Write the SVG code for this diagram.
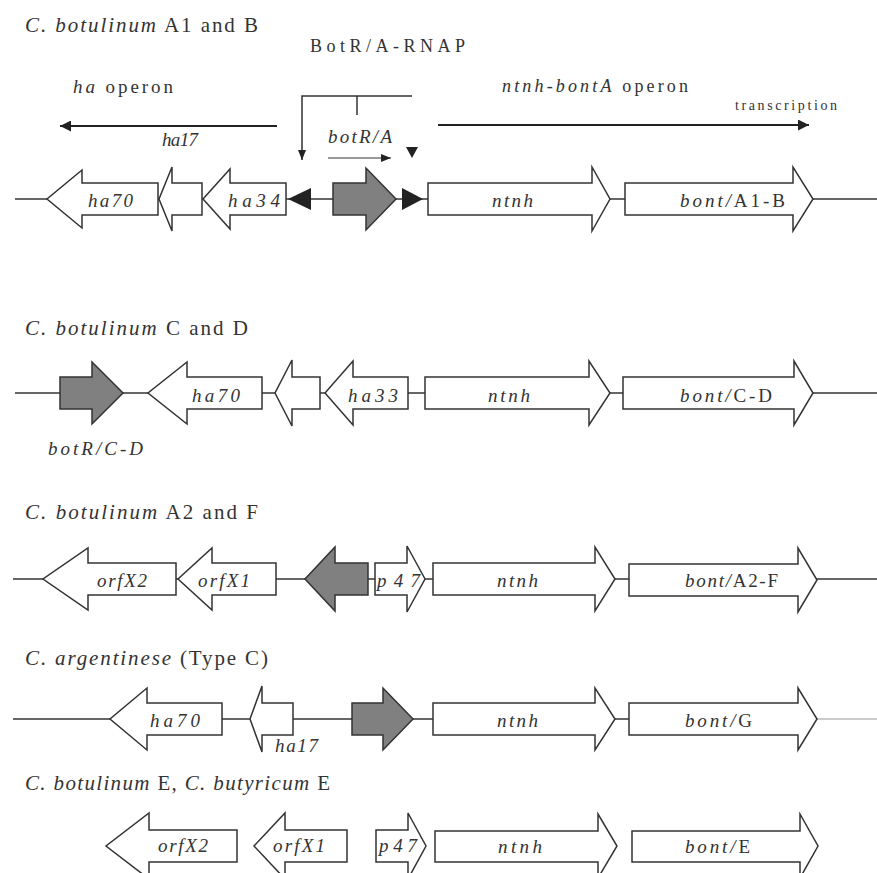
<svg xmlns="http://www.w3.org/2000/svg" width="877" height="873" viewBox="0 0 877 873">
<defs>
<marker id="ah" viewBox="0 0 10 10" refX="10" refY="5" markerWidth="10" markerHeight="10" markerUnits="userSpaceOnUse" orient="auto">
<path d="M0,1 L10,5 L0,9 Z" fill="#222"/>
</marker>
<marker id="ahs" viewBox="0 0 10 10" refX="10" refY="5" markerWidth="11" markerHeight="11" markerUnits="userSpaceOnUse" orient="auto">
<path d="M0,0 L10,5 L0,10 Z" fill="#222"/>
</marker>
</defs>
<style>
text{font-family:"Liberation Serif","Times New Roman",serif;fill:#333}
.t{font-size:21px}
.g{font-size:19px;font-style:italic}
.i{font-style:italic}
.n{font-style:normal}
.gene{fill:#fff;stroke:#333;stroke-width:1.5;stroke-linejoin:miter}
.reg{fill:#808080;stroke:#333;stroke-width:1.5}
.tri{fill:#222}
.base{stroke:#333;stroke-width:1.5;fill:none}
.op{stroke:#222;stroke-width:2;fill:none}
</style>
<rect width="877" height="873" fill="#fff"/>

<g id="connectors">
<line class="base" x1="15" y1="199" x2="877" y2="199"/>
<line class="base" x1="15" y1="393" x2="877" y2="393"/>
<line class="base" x1="13" y1="579" x2="877" y2="579"/>
<line class="base" x1="13" y1="719" x2="817" y2="719"/>
<line x1="817" y1="719" x2="877" y2="719" stroke="#999" stroke-width="1.2"/>
<line class="op" x1="277" y1="126" x2="60" y2="126" marker-end="url(#ahs)"/>
<line class="op" x1="438" y1="125" x2="809" y2="125" marker-end="url(#ahs)"/>
<polyline class="base" points="302,149 302,96 412,96"/>
<line class="base" x1="302" y1="149" x2="302" y2="160" marker-end="url(#ah)"/>
<line class="base" x1="357" y1="96" x2="357" y2="115"/>
<line x1="328" y1="158" x2="391" y2="158" stroke="#333" stroke-width="1.2" marker-end="url(#ah)"/>
</g>

<g id="titles">
<text class="t" x="25" y="32" textLength="233" lengthAdjust="spacing"><tspan class="i">C. botulinum</tspan> A1 and B</text>
<text class="t" x="25" y="335" textLength="223" lengthAdjust="spacing"><tspan class="i">C. botulinum</tspan> C and D</text>
<text class="t" x="25" y="519" textLength="233" lengthAdjust="spacing"><tspan class="i">C. botulinum</tspan> A2 and F</text>
<text class="t" x="25" y="665" textLength="243" lengthAdjust="spacing"><tspan class="i">C. argentinese</tspan> (Type C)</text>
<text class="t" x="25" y="790" textLength="305" lengthAdjust="spacing"><tspan class="i">C. botulinum</tspan> E, <tspan class="i">C. butyricum</tspan> E</text>
</g>

<g id="labels-top">
<text x="310" y="52" font-size="18" textLength="155" lengthAdjust="spacing">BotR/A-RNAP</text>
<text x="73" y="93" font-size="19" textLength="100" lengthAdjust="spacing"><tspan class="i">ha</tspan> operon</text>
<text x="502" y="92" font-size="18" textLength="186" lengthAdjust="spacing"><tspan class="i">ntnh-bontA</tspan> operon</text>
<text x="735" y="110" font-size="14" textLength="102" lengthAdjust="spacing">transcription</text>
</g>

<!-- Row 1 -->
<g id="r1-ha70"><polygon class="gene" points="158,183 82,183 82,170 47,199 82,228 82,215 158,215"/><text class="g" x="88" y="207" textLength="45" lengthAdjust="spacing">ha70</text></g>
<g id="r1-ha17"><polygon class="gene" points="202,183 172,183 172,167 159,199 172,231 172,215 202,215"/><text class="g" x="162" y="146" textLength="36" lengthAdjust="spacing">ha17</text></g>
<g id="r1-ha34"><polygon class="gene" points="286,183 230,183 230,169 203,199 230,229 230,215 286,215"/><text class="g" x="228" y="207" textLength="52" lengthAdjust="spacing">ha34</text></g>
<g id="r1-site-left"><polygon class="tri" points="288,199 311,188 311,210"/></g>
<g id="r1-botR"><polygon class="reg" points="333,183 366,183 366,168 396,199 366,230 366,215 333,215"/><text class="g" x="328" y="143" textLength="64" lengthAdjust="spacing">botR/A</text></g>
<g id="r1-site-right"><polygon class="tri" points="402,188 423,199 402,210"/><polygon class="tri" points="406,147 418,147 412,158"/></g>
<g id="r1-ntnh"><polygon class="gene" points="428,183 592,183 592,167 610,199 592,231 592,215 428,215"/><text class="g" x="492" y="207" textLength="41" lengthAdjust="spacing">ntnh</text></g>
<g id="r1-bont"><polygon class="gene" points="625,183 793,183 793,167 813,199 793,231 793,215 625,215"/><text class="g" x="680" y="207" textLength="105" lengthAdjust="spacing">bont/<tspan class="n">A1-B</tspan></text></g>

<!-- Row 2 -->
<g id="r2-botR"><polygon class="reg" points="60,377 92,377 92,362 123,393 92,424 92,409 60,409"/><text class="g" x="48" y="455" textLength="95" lengthAdjust="spacing">botR/C-D</text></g>
<g id="r2-ha70"><polygon class="gene" points="262,377 187,377 187,362 148,393 187,424 187,409 262,409"/><text class="g" x="192" y="402" textLength="48" lengthAdjust="spacing">ha70</text></g>
<g id="r2-ha17"><polygon class="gene" points="320,377 292,377 292,360 275,393 292,426 292,409 320,409"/></g>
<g id="r2-ha33"><polygon class="gene" points="408,377 353,377 353,361 325,393 353,425 353,409 408,409"/><text class="g" x="348" y="402" textLength="50" lengthAdjust="spacing">ha33</text></g>
<g id="r2-ntnh"><polygon class="gene" points="425,377 589,377 589,361 610,393 589,425 589,409 425,409"/><text class="g" x="488" y="402" textLength="42" lengthAdjust="spacing">ntnh</text></g>
<g id="r2-bont"><polygon class="gene" points="623,377 794,377 794,361 813,393 794,425 794,409 623,409"/><text class="g" x="680" y="402" textLength="92" lengthAdjust="spacing">bont/<tspan class="n">C-D</tspan></text></g>

<!-- Row 3 -->
<g id="r3-orfX2"><polygon class="gene" points="176,563 88,563 88,548 43,579 88,610 88,595 176,595"/><text class="g" x="97" y="587" textLength="50" lengthAdjust="spacing">orfX2</text></g>
<g id="r3-orfX1"><polygon class="gene" points="276,563 212,563 212,548 178,579 212,610 212,595 276,595"/><text class="g" x="198" y="587" textLength="52" lengthAdjust="spacing">orfX1</text></g>
<g id="r3-botR"><polygon class="reg" points="368,563 335,563 335,547 305,579 335,611 335,595 368,595"/></g>
<g id="r3-p47"><polygon class="gene" points="375,563 407,563 407,546 425,579 407,612 407,595 375,595"/><text class="g" x="377" y="587" textLength="43" lengthAdjust="spacing">p47</text></g>
<g id="r3-ntnh"><polygon class="gene" points="433,563 595,563 595,547 615,579 595,611 595,595 433,595"/><text class="g" x="497" y="587" textLength="41" lengthAdjust="spacing">ntnh</text></g>
<g id="r3-bont"><polygon class="gene" points="629,564 798,564 798,548 817,580 798,612 798,596 629,596"/><text class="g" x="685" y="587" textLength="93" lengthAdjust="spacing">bont/<tspan class="n">A2-F</tspan></text></g>

<!-- Row 4 -->
<g id="r4-ha70"><polygon class="gene" points="222,703 147,703 147,688 110,719 147,750 147,735 222,735"/><text class="g" x="150" y="727" textLength="50" lengthAdjust="spacing">ha70</text></g>
<g id="r4-ha17"><polygon class="gene" points="293,703 262,703 262,686 250,719 262,752 262,735 293,735"/><text class="g" x="275" y="752" textLength="43" lengthAdjust="spacing">ha17</text></g>
<g id="r4-botR"><polygon class="reg" points="352,703 383,703 383,688 413,719 383,750 383,735 352,735"/></g>
<g id="r4-ntnh"><polygon class="gene" points="433,703 595,703 595,688 615,719 595,750 595,735 433,735"/><text class="g" x="497" y="727" textLength="41" lengthAdjust="spacing">ntnh</text></g>
<g id="r4-bont"><polygon class="gene" points="629,703 798,703 798,688 817,719 798,750 798,735 629,735"/><text class="g" x="685" y="727" textLength="67" lengthAdjust="spacing">bont/<tspan class="n">G</tspan></text></g>

<!-- Row 5 -->
<g id="r5-orfX2"><polygon class="gene" points="237,830 149,830 149,813 106,846 149,879 149,862 237,862"/><text class="g" x="158" y="852" textLength="50" lengthAdjust="spacing">orfX2</text></g>
<g id="r5-orfX1"><polygon class="gene" points="347,830 285,830 285,813 254,846 285,879 285,862 347,862"/><text class="g" x="273" y="852" textLength="52" lengthAdjust="spacing">orfX1</text></g>
<g id="r5-p47"><polygon class="gene" points="376,830 408,830 408,813 426,846 408,879 408,862 376,862"/><text class="g" x="379" y="852" textLength="38" lengthAdjust="spacing">p47</text></g>
<g id="r5-ntnh"><polygon class="gene" points="435,831 598,831 598,814 617,846 598,878 598,862 435,862"/><text class="g" x="498" y="853" textLength="44" lengthAdjust="spacing">ntnh</text></g>
<g id="r5-bont"><polygon class="gene" points="632,831 800,831 800,814 818,846 800,878 800,862 632,862"/><text class="g" x="685" y="853" textLength="65" lengthAdjust="spacing">bont/<tspan class="n">E</tspan></text></g>
</svg>
